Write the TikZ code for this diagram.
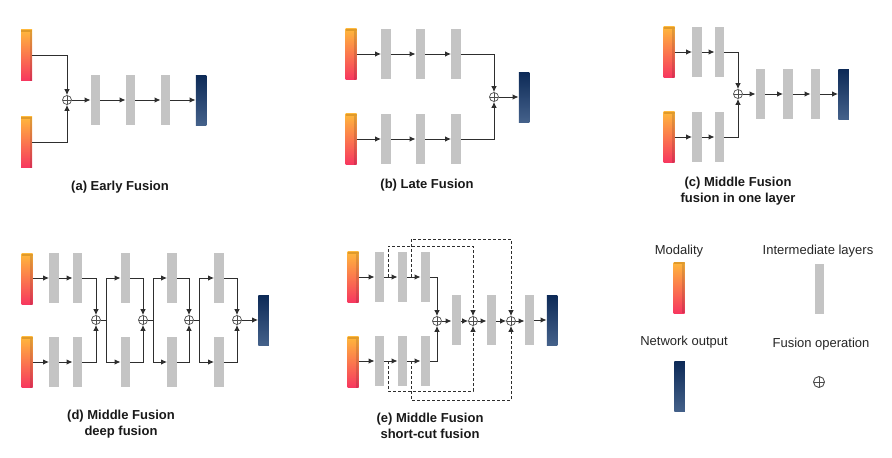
\documentclass[tikz,border=0pt]{standalone}
\usepackage{fontspec}
\setmainfont{Liberation Sans}
\usetikzlibrary{arrows.meta,calc}
\definecolor{modtop}{HTML}{FFB83C}
\definecolor{modbot}{HTML}{F7375F}
\definecolor{modbev}{HTML}{E09A2A}
\definecolor{barg}{HTML}{C4C4C4}
\definecolor{outtop}{HTML}{0D2A57}
\definecolor{outbot}{HTML}{44618A}
\definecolor{lnc}{HTML}{2E2E2E}
\begin{document}
\begin{tikzpicture}[x=1pt,y=-1pt,
  mod/.style={rectangle, inner sep=0pt, minimum width=11pt, minimum height=51pt,
    top color=modtop, bottom color=modbot,
    path picture={
      \fill[black,opacity=0.12] ([xshift=-2.5pt]path picture bounding box.north east) rectangle (path picture bounding box.south east);
      \fill[modbev] (path picture bounding box.north west) rectangle ([yshift=-2pt]path picture bounding box.north east);}},
  bar/.style={rectangle, inner sep=0pt, minimum width=9.5pt, minimum height=50pt, fill=barg},
  outp/.style={rectangle, inner sep=0pt, minimum width=10.5pt, minimum height=50pt, top color=outtop, bottom color=outbot},
  fus/.style={circle, draw=lnc!85, line width=0.7pt, minimum size=9pt, inner sep=0pt, fill=white,
    path picture={\draw[lnc!85, line width=0.7pt] (path picture bounding box.north) -- (path picture bounding box.south)
      (path picture bounding box.west) -- (path picture bounding box.east);}},
  arr/.style={draw=lnc, line width=1pt, -{Latex[length=6pt,width=5.5pt]}},
  ln/.style={draw=lnc, line width=1pt},
  darr/.style={draw=lnc, line width=1pt, dash pattern=on 3pt off 2pt, -{Latex[length=6pt,width=5.5pt]}},
  captxt/.style={font=\fontsize{13}{16}\selectfont\bfseries, align=center, text=black!90},
  leg/.style={font=\fontsize{13}{16}\selectfont, text=black!85}]
\fill[white] (0,0) rectangle (892,458);
\useasboundingbox (0,0) rectangle (892,458);

% ---------- (a) Early fusion ----------
\node[mod] (am1) at (26.5,55) {};
\node[mod] (am2) at (26.5,142) {};
\node[fus] (af) at (67,100) {};
\node[bar] (ab1) at (95.5,100) {};
\node[bar] (ab2) at (130.5,100) {};
\node[bar] (ab3) at (165.5,100) {};
\node[outp] (ao) at (201,100) {};
\draw[arr] (am1.east) -| (af.north);
\draw[arr] (am2.east) -| (af.south);
\draw[arr] (af) -- (ab1);
\draw[arr] (ab1) -- (ab2);
\draw[arr] (ab2) -- (ab3);
\draw[arr] (ab3) -- (ao);
\node[captxt] (acap) at (120,187) {(a) Early Fusion};

% ---------- (b) Late fusion ----------
\node[mod] (bm1) at (351,54) {};
\node[mod] (bm2) at (351,139) {};
\node[bar] (bb11) at (386,54) {};
\node[bar] (bb12) at (420.5,54) {};
\node[bar] (bb13) at (456,54) {};
\node[bar] (bb21) at (386,139) {};
\node[bar] (bb22) at (420.5,139) {};
\node[bar] (bb23) at (456,139) {};
\node[fus] (bf) at (494,97) {};
\node[outp] (bo) at (524,97) {};
\draw[arr] (bm1) -- (bb11);
\draw[arr] (bb11) -- (bb12);
\draw[arr] (bb12) -- (bb13);
\draw[arr] (bm2) -- (bb21);
\draw[arr] (bb21) -- (bb22);
\draw[arr] (bb22) -- (bb23);
\draw[arr] (bb13.east) -| (bf.north);
\draw[arr] (bb23.east) -| (bf.south);
\draw[arr] (bf) -- (bo);
\node[captxt] (bcap) at (427,185) {(b) Late Fusion};

% ---------- (c) Middle fusion, one layer ----------
\node[mod] (cm1) at (669,52) {};
\node[mod] (cm2) at (669,137) {};
\node[bar] (cb11) at (697,52) {};
\node[bar] (cb12) at (719.5,52) {};
\node[bar] (cb21) at (697,137) {};
\node[bar] (cb22) at (719.5,137) {};
\node[fus] (cf) at (738,94) {};
\node[bar] (cb3) at (760.5,94) {};
\node[bar] (cb4) at (788,94) {};
\node[bar] (cb5) at (815.5,94) {};
\node[outp] (co) at (843.5,94) {};
\draw[arr] (cm1) -- (cb11);
\draw[arr] (cb11) -- (cb12);
\draw[arr] (cm2) -- (cb21);
\draw[arr] (cb21) -- (cb22);
\draw[arr] (cb12.east) -| (cf.north);
\draw[arr] (cb22.east) -| (cf.south);
\draw[arr] (cf) -- (cb3);
\draw[arr] (cb3) -- (cb4);
\draw[arr] (cb4) -- (cb5);
\draw[arr] (cb5) -- (co);
\node[captxt] (ccap) at (738,191) {(c) Middle Fusion\\fusion in one layer};

% ---------- (d) Middle fusion, deep ----------
\node[mod] (dm1) at (27,279) {};
\node[mod] (dm2) at (27,362) {};
\node[bar] (db11) at (54,278) {};
\node[bar] (db12) at (77.5,278) {};
\node[bar] (db21) at (54,362) {};
\node[bar] (db22) at (77.5,362) {};
\node[fus] (df1) at (96,320) {};
\node[fus] (df2) at (143,320) {};
\node[fus] (df3) at (189,320) {};
\node[fus] (df4) at (237,320) {};
\coordinate (ds1) at (106,320);
\coordinate (ds2) at (153,320);
\coordinate (ds3) at (199,320);
\node[bar] (dc1t) at (125.5,278) {};
\node[bar] (dc1b) at (125.5,362) {};
\node[bar] (dc2t) at (172,278) {};
\node[bar] (dc2b) at (172,362) {};
\node[bar] (dc3t) at (219,278) {};
\node[bar] (dc3b) at (219,362) {};
\node[outp] (dout) at (263.5,320) {};
\draw[arr] (dm1.east |- db11) -- (db11);
\draw[arr] (db11) -- (db12);
\draw[arr] (dm2) -- (db21);
\draw[arr] (db21) -- (db22);
\draw[arr] (db12.east) -| (df1.north);
\draw[arr] (db22.east) -| (df1.south);
\draw[ln] (df1.east) -- (ds1);
\draw[arr] (ds1) |- (dc1t.west);
\draw[arr] (ds1) |- (dc1b.west);
\draw[arr] (dc1t.east) -| (df2.north);
\draw[arr] (dc1b.east) -| (df2.south);
\draw[ln] (df2.east) -- (ds2);
\draw[arr] (ds2) |- (dc2t.west);
\draw[arr] (ds2) |- (dc2b.west);
\draw[arr] (dc2t.east) -| (df3.north);
\draw[arr] (dc2b.east) -| (df3.south);
\draw[ln] (df3.east) -- (ds3);
\draw[arr] (ds3) |- (dc3t.west);
\draw[arr] (ds3) |- (dc3b.west);
\draw[arr] (dc3t.east) -| (df4.north);
\draw[arr] (dc3b.east) -| (df4.south);
\draw[arr] (df4) -- (dout);
\node[captxt] (dcap) at (121,424.5) {(d) Middle Fusion\\deep fusion};

% ---------- (e) Middle fusion, short-cut ----------
\node[mod] (em1) at (353,277) {};
\node[mod] (em2) at (353,362) {};
\node[bar] (eb11) at (379.5,277) {};
\node[bar] (eb12) at (402.5,277) {};
\node[bar] (eb13) at (425.5,277) {};
\node[bar] (eb21) at (379.5,361) {};
\node[bar] (eb22) at (402.5,361) {};
\node[bar] (eb23) at (425.5,361) {};
\node[fus] (ef1) at (437,321) {};
\node[bar] (ec1) at (456.5,320) {};
\node[fus] (ef2) at (473,321) {};
\node[bar] (ec2) at (491.5,320) {};
\node[fus] (ef3) at (511,321) {};
\node[bar] (ec3) at (529.5,320) {};
\node[outp] (eo) at (552,320) {};
\coordinate (ed1) at (388,277);
\coordinate (ed2) at (411,277);
\coordinate (ed3) at (388,361);
\coordinate (ed4) at (411,361);
\draw[arr] (em1) -- (eb11);
\draw[arr] (eb11) -- (eb12);
\draw[arr] (eb12) -- (eb13);
\draw[arr] (em2.east |- eb21) -- (eb21);
\draw[arr] (eb21) -- (eb22);
\draw[arr] (eb22) -- (eb23);
\draw[arr] (eb13.east) -| (ef1.north);
\draw[arr] (eb23.east) -| (ef1.south);
\draw[arr] (ef1.east) -- (ec1.west |- ef1);
\draw[arr] (ec1.east |- ef2) -- (ef2.west);
\draw[arr] (ef2.east) -- (ec2.west |- ef2);
\draw[arr] (ec2.east |- ef3) -- (ef3.west);
\draw[arr] (ef3.east) -- (ec3.west |- ef3);
\draw[arr] (ec3.east |- eo) -- (eo.west);
\draw[darr] (ed1) -- ++(0,-31) -| (ef2.north);
\draw[darr] (ed2) -- ++(0,-38) -| (ef3.north);
\draw[darr] (ed3) -- ++(0,30) -| (ef2.south);
\draw[darr] (ed4) -- ++(0,39) -| (ef3.south);
\node[captxt] (ecap) at (430,425.5) {(e) Middle Fusion\\short-cut fusion};

% ---------- legend ----------
\node[leg] (lmt) at (679,251) {Modality};
\node[mod] (lm) at (679,287.5) {};
\node[leg] (lit) at (818,251) {Intermediate layers};
\node[bar] (lb) at (819.5,289) {};
\node[leg] (lnt) at (684,342) {Network output};
\node[outp] (lo) at (679.5,386.5) {};
\node[leg] (lft) at (821,344) {Fusion operation};
\node[fus, minimum size=11pt, line width=0.9pt, fill=none] (lf) at (819,382) {};
\end{tikzpicture}
\end{document}
